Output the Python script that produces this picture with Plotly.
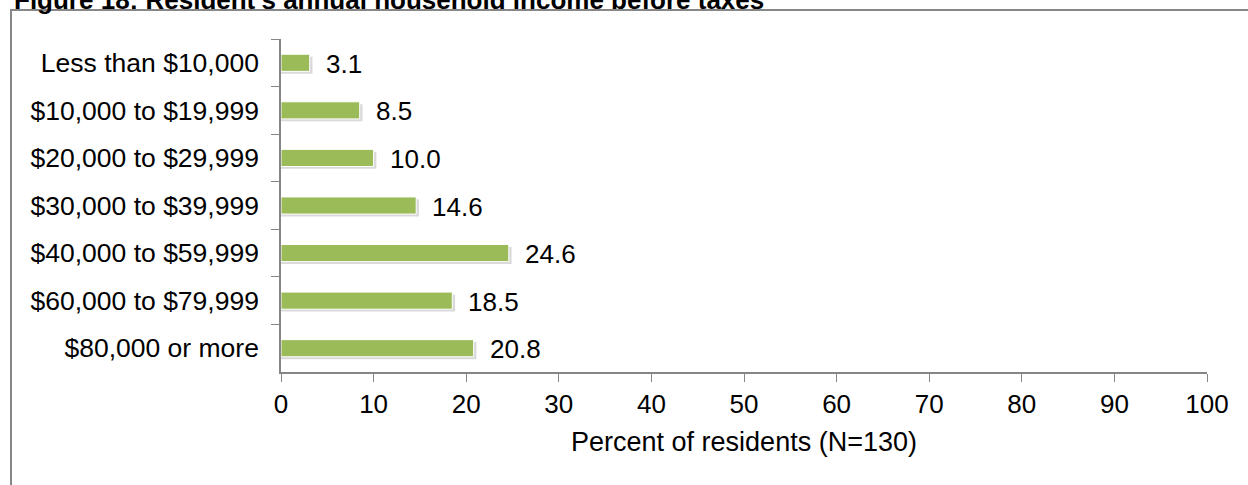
import plotly.graph_objects as go

categories = ["Less than $10,000", "$10,000 to $19,999", "$20,000 to $29,999",
              "$30,000 to $39,999", "$40,000 to $59,999", "$60,000 to $79,999",
              "$80,000 or more"]
values = [3.1, 8.5, 10.0, 14.6, 24.6, 18.5, 20.8]
value_labels = ["3.1", "8.5", "10.0", "14.6", "24.6", "18.5", "20.8"]
x_ticks = [0, 10, 20, 30, 40, 50, 60, 70, 80, 90, 100]

W, H = 1248, 485
L, R, T, B = 281, 41, 39, 113
PW, PH = W - L - R, H - T - B
FONT = "Arial, Liberation Sans, sans-serif"
AXIS = "#868686"
GREEN = "#9BBB59"

def px_x(p):
    return (p - L) / PW

def px_y(p):
    return (H - B - p) / PH

bw = 0.36
fig = go.Figure()
# soft drop shadow
fig.add_trace(go.Bar(y=categories, x=[v + 0.3 for v in values], orientation="h",
                     width=bw, offset=-bw / 2 + 0.05,
                     marker=dict(color="rgba(0,0,0,0.15)", line=dict(width=0)),
                     hoverinfo="skip", showlegend=False))
fig.add_trace(go.Bar(y=categories, x=values, orientation="h",
                     width=bw, offset=-bw / 2,
                     marker=dict(color=GREEN, line=dict(color="white", width=1)),
                     showlegend=False))

for c, v, t in zip(categories, values, value_labels):
    fig.add_annotation(x=v, y=c, text=t, showarrow=False, xanchor="left",
                       yanchor="middle", xshift=14, yshift=-1,
                       font=dict(family=FONT, size=26, color="black"))

# title (partially cut at top, as in the reference)
fig.add_annotation(xref="paper", yref="paper", x=px_x(12), y=px_y(17),
                   xanchor="left", yanchor="bottom", showarrow=False,
                   text="<b>Figure 18: Resident's annual household income before taxes</b>",
                   font=dict(family=FONT, size=26, color="black"))

# outer border (extends beyond the picture right and bottom)
fig.add_shape(type="rect", xref="paper", yref="paper",
              x0=px_x(11), x1=px_x(W + 20), y0=px_y(H + 20), y1=px_y(10),
              line=dict(color="#878787", width=2), fillcolor="rgba(0,0,0,0)",
              layer="below")

fig.update_layout(
    width=W, height=H,
    margin=dict(l=L, r=R, t=T, b=B, pad=0),
    paper_bgcolor="white", plot_bgcolor="white",
    barmode="overlay",
    font=dict(family=FONT, size=26, color="black"),
    xaxis=dict(range=[0, 100], tickvals=x_ticks, ticks="outside", ticklen=8,
               tickcolor=AXIS, showline=True, linecolor=AXIS, linewidth=1.5,
               showgrid=False, zeroline=False,
               tickfont=dict(family=FONT, size=26, color="black"),
               title=dict(text="Percent of residents (N=130)", standoff=14,
                          font=dict(family=FONT, size=27, color="black"))),
    yaxis=dict(categoryorder="array", categoryarray=categories,
               autorange="reversed", ticks="outside", ticklen=8,
               tickson="boundaries", tickcolor=AXIS, showline=True,
               linecolor=AXIS, linewidth=1.5, showgrid=False, zeroline=False,
               ticklabelstandoff=15,
               tickfont=dict(family=FONT, size=26.5, color="black")),
)

fig.write_html("out.html", config={"displayModeBar": False},
               post_script="document.body.style.margin='0';document.body.style.overflow='hidden';")
